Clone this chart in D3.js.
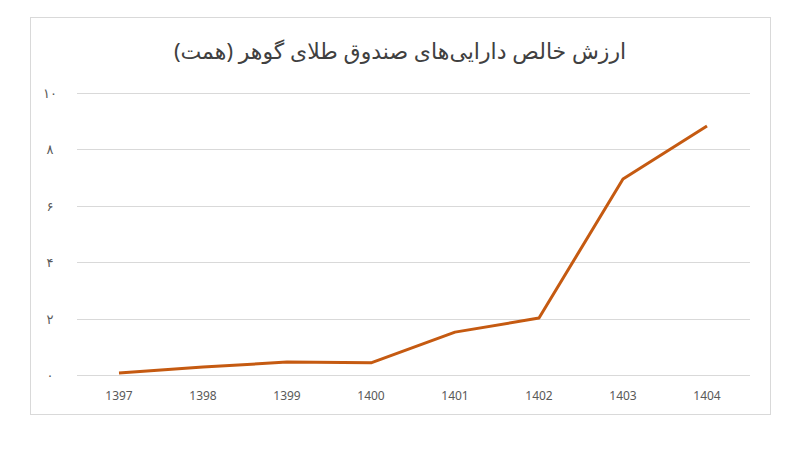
<!DOCTYPE html>
<html><head><meta charset="utf-8">
<script src="https://cdn.jsdelivr.net/npm/d3@7"></script>
<style>body{margin:0;background:#fff}</style>
</head><body>
<script>
// data
var years = ["1397", "1398", "1399", "1400", "1401", "1402", "1403", "1404"];
var values = [0.07, 0.28, 0.46, 0.43, 1.52, 2.02, 6.95, 8.83];
var yTicks = [0, 2, 4, 6, 8, 10];
var yTickLabels = ["۰", "۲", "۴", "۶", "۸", "۱۰"];
var title = "ارزش خالص دارایی‌های صندوق طلای گوهر (همت)";

var svg = d3.select("body").append("svg").attr("width", 800).attr("height", 450);

svg.append("rect").attr("x", 30.5).attr("y", 17.5).attr("width", 740).attr("height", 397)
  .attr("fill", "#fff").attr("stroke", "#d9d9d9");

var x = d3.scalePoint().domain(years).range([119, 707]);
var y = d3.scaleLinear().domain([0, 10]).range([375, 93]);

svg.selectAll(".grid").data(yTicks).enter().append("line")
  .attr("x1", 77).attr("x2", 750)
  .attr("y1", function(d) { return Math.round(y(d)) + 0.5; })
  .attr("y2", function(d) { return Math.round(y(d)) + 0.5; })
  .attr("stroke", "#d9d9d9");

svg.selectAll(".yl").data(yTicks).enter().append("text")
  .attr("x", 50).attr("y", function(d) { return y(d) + 5; })
  .attr("text-anchor", "middle").attr("font-family", "Noto Sans, DejaVu Sans")
  .attr("font-size", 13).attr("fill", "#595959")
  .text(function(d, i) { return yTickLabels[i]; });

svg.selectAll(".xl").data(years).enter().append("text")
  .attr("x", function(d) { return x(d); }).attr("y", 400)
  .attr("text-anchor", "middle").attr("font-family", "Noto Sans, DejaVu Sans")
  .attr("font-size", 12).attr("fill", "#595959")
  .text(function(d) { return d; });

var line = d3.line()
  .x(function(d, i) { return x(years[i]); })
  .y(function(d) { return y(d); });

svg.append("path").datum(values).attr("d", line)
  .attr("fill", "none").attr("stroke", "#c55a11").attr("stroke-width", 3)
  .attr("stroke-linejoin", "round");

svg.append("text").attr("x", 400).attr("y", 59).attr("text-anchor", "middle")
  .attr("direction", "rtl").attr("font-family", "Noto Sans, DejaVu Sans")
  .attr("font-size", 22).attr("fill", "#404040").text(title);
</script>
</body></html>
